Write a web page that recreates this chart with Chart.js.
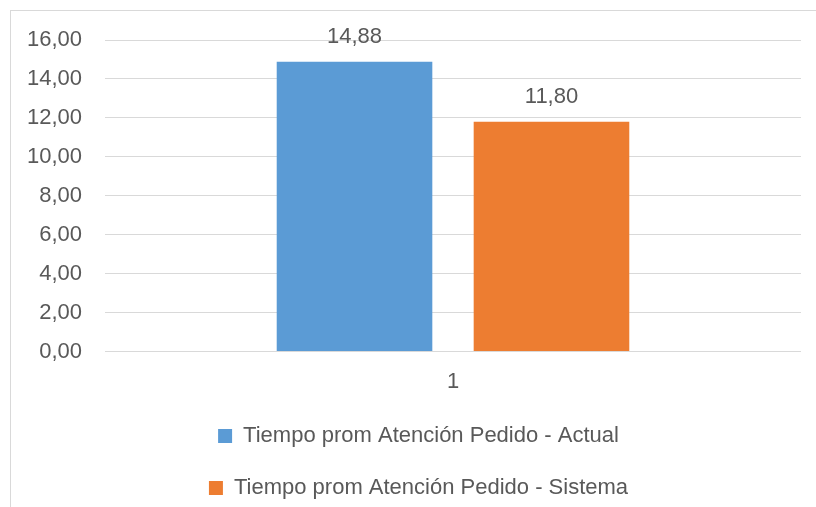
<!DOCTYPE html>
<html>
<head>
<meta charset="utf-8">
<script src="https://cdn.jsdelivr.net/npm/chart.js@4.4.1/dist/chart.umd.min.js"></script>
<style>
  html, body { margin: 0; padding: 0; background: #ffffff; }
  #wrap { width: 816px; height: 507px; }
</style>
</head>
<body>
<div id="wrap"><canvas id="chart" width="816" height="507"></canvas></div>
<script>
// data
var categories = ['1'];
var seriesNames = ['Tiempo prom Atención Pedido - Actual', 'Tiempo prom Atención Pedido - Sistema'];
var actualValues = [14.88];
var sistemaValues = [11.80];
var yTicks = [0, 2, 4, 6, 8, 10, 12, 14, 16];

var textColor = '#595959';
var fontFamily = '"Liberation Sans", Arial, sans-serif';

function fmt(v) {
    return v.toFixed(2).replace('.', ',');
}

// light frame round the chart, like the office chart border
var framePlugin = {
    id: 'frame',
    afterLayout: function(chart) {
        // legend rows sit a bit right of the canvas centre in the original
        chart.legend.left += 18;
        chart.legend.right += 18;
        chart.legend.top += 2;
        chart.legend.bottom += 2;
    },
    beforeDraw: function(chart) {
        var ctx = chart.ctx;
        ctx.save();
        ctx.strokeStyle = '#d9d9d9';
        ctx.lineWidth = 1;
        ctx.strokeRect(10.5, 10.5, 900, 900);
        ctx.restore();
    }
};

// value labels above the bars
var valueLabels = {
    id: 'valueLabels',
    afterDatasetsDraw: function(chart) {
        var ctx = chart.ctx;
        ctx.save();
        ctx.fillStyle = textColor;
        ctx.font = '22px ' + fontFamily;
        ctx.textAlign = 'center';
        ctx.textBaseline = 'middle';
        chart.data.datasets.forEach(function(ds, i) {
            var meta = chart.getDatasetMeta(i);
            meta.data.forEach(function(bar, j) {
                ctx.fillText(fmt(ds.data[j]), bar.x, bar.y - 25);
            });
        });
        ctx.restore();
    }
};

var ctx = document.getElementById('chart').getContext('2d');
var chart = new Chart(ctx, {
    type: 'bar',
    data: {
        labels: categories,
        datasets: [{
            label: seriesNames[0],
            data: actualValues,
            backgroundColor: '#5B9BD5',
            borderWidth: 0
        }, {
            label: seriesNames[1],
            data: sistemaValues,
            backgroundColor: '#ED7D31',
            borderWidth: 0
        }]
    },
    options: {
        responsive: false,
        animation: false,
        devicePixelRatio: 1,
        layout: {
            padding: { left: 0, right: 15, top: 40, bottom: 0 }
        },
        datasets: {
            bar: {
                categoryPercentage: 0.566,
                barPercentage: 0.79
            }
        },
        scales: {
            x: {
                grid: { display: false, drawTicks: false },
                border: { display: false },
                afterFit: function(scale) {
                    scale.height -= 19;
                },
                ticks: {
                    color: textColor,
                    font: { family: fontFamily, size: 22 },
                    padding: 17
                }
            },
            y: {
                min: 0,
                max: 16,
                afterBuildTicks: function(scale) {
                    scale.ticks = yTicks.map(function(v) { return { value: v }; });
                },
                afterFit: function(scale) {
                    scale.width = 105;
                },
                grid: { color: '#d9d9d9', lineWidth: 1, drawTicks: false },
                border: { display: false },
                ticks: {
                    color: textColor,
                    font: { family: fontFamily, size: 22 },
                    padding: 23,
                    callback: function(v) { return fmt(v); }
                }
            }
        },
        plugins: {
            legend: {
                position: 'bottom',
                labels: {
                    color: textColor,
                    font: { family: fontFamily, size: 22 },
                    boxWidth: 14,
                    boxHeight: 14,
                    padding: 30
                }
            },
            tooltip: { enabled: false }
        }
    },
    plugins: [framePlugin, valueLabels]
});
</script>
</body>
</html>
